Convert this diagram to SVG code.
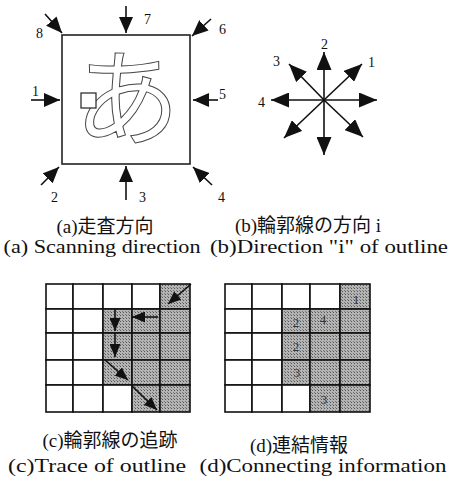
<svg xmlns="http://www.w3.org/2000/svg" width="452" height="482" viewBox="0 0 452 482">
<style>
.ln{stroke:#111;stroke-width:1.6;fill:none}
.num{font-family:"Liberation Serif","Noto Sans CJK JP",serif;font-size:14px;fill:#111}
.cap{font-family:"Liberation Serif","Noto Sans CJK JP",serif;font-size:19px;fill:#111}
.cell{stroke:#111;stroke-width:1.6}
.w{fill:#fff}
.g{fill:url(#dither)}
.dn{font-family:"Liberation Serif",serif;font-size:13px;fill:#333;text-anchor:middle}
</style>
<defs>
<pattern id="dither" width="3" height="3" patternUnits="userSpaceOnUse">
<rect width="3" height="3" fill="#b4b4b4"/>
<rect width="1" height="1" fill="#555"/>
<rect x="2" y="2" width="1" height="1" fill="#777"/>
</pattern>
<marker id="ah" markerUnits="userSpaceOnUse" markerWidth="16" markerHeight="14" refX="16" refY="7" orient="auto">
<path d="M0,0 L16,7 L0,14 z" fill="#111"/>
</marker>
<marker id="ahb" markerUnits="userSpaceOnUse" markerWidth="18" markerHeight="15" refX="18" refY="7.5" orient="auto">
<path d="M0,0 L18,7.5 L0,15 z" fill="#111"/>
</marker>
<marker id="ahc" markerUnits="userSpaceOnUse" markerWidth="13" markerHeight="11" refX="13" refY="5.5" orient="auto">
<path d="M0,0 L13,5.5 L0,11 z" fill="#111"/>
</marker>
</defs>

<!-- (a) scanning direction -->
<g id="scan-box">
<rect x="62" y="35" width="128" height="129" fill="#fff" stroke="#222" stroke-width="1.6"/>
<text x="127" y="137" text-anchor="middle" font-family="Noto Sans CJK JP,sans-serif" font-weight="400" font-size="106" fill="#fff" stroke="#444" stroke-width="1">あ</text>
<rect x="81" y="93" width="15" height="15" fill="#fff" stroke="#222" stroke-width="1.2"/>
</g>
<g id="scan-arrows">
<line class="ln" x1="45" y1="14" x2="62" y2="33" marker-end="url(#ah)"/>
<line class="ln" x1="126" y1="6" x2="126" y2="33" marker-end="url(#ah)"/>
<line class="ln" x1="211" y1="19" x2="192" y2="36" marker-end="url(#ah)"/>
<line class="ln" x1="31" y1="100" x2="60" y2="100" marker-end="url(#ah)"/>
<line class="ln" x1="218" y1="100" x2="193" y2="100" marker-end="url(#ah)"/>
<line class="ln" x1="41" y1="185" x2="59" y2="167" marker-end="url(#ah)"/>
<line class="ln" x1="126" y1="200" x2="126" y2="166" marker-end="url(#ah)"/>
<line class="ln" x1="212" y1="185" x2="193" y2="167" marker-end="url(#ah)"/>
</g>
<g id="scan-labels">
<text class="num" x="36" y="38">8</text>
<text class="num" x="144" y="24">7</text>
<text class="num" x="219" y="34">6</text>
<text class="num" x="32" y="96">1</text>
<text class="num" x="219" y="99">5</text>
<text class="num" x="51" y="202">2</text>
<text class="num" x="139" y="202">3</text>
<text class="num" x="218" y="202">4</text>
</g>

<!-- (b) direction i -->
<g id="dir-arrows">
<line class="ln" x1="324" y1="100" x2="324" y2="52" marker-end="url(#ahb)"/>
<line class="ln" x1="324" y1="100" x2="324" y2="155" marker-end="url(#ahb)"/>
<line class="ln" x1="324" y1="100" x2="377" y2="100" marker-end="url(#ahb)"/>
<line class="ln" x1="324" y1="100" x2="271" y2="100" marker-end="url(#ahb)"/>
<line class="ln" x1="324" y1="100" x2="362" y2="64" marker-end="url(#ahb)"/>
<line class="ln" x1="324" y1="100" x2="289" y2="64" marker-end="url(#ahb)"/>
<line class="ln" x1="324" y1="100" x2="284" y2="138" marker-end="url(#ahb)"/>
<line class="ln" x1="324" y1="100" x2="363" y2="137" marker-end="url(#ahb)"/>
</g>
<g id="dir-labels">
<text class="num" x="321" y="49">2</text>
<text class="num" x="368" y="67">1</text>
<text class="num" x="273" y="66">3</text>
<text class="num" x="258" y="107">4</text>
</g>

<g id="captions-ab">
<text class="cap" x="105" y="233" text-anchor="middle">(a)走査方向</text>
<text class="cap" x="102" y="253" text-anchor="middle" textLength="197" lengthAdjust="spacingAndGlyphs">(a) Scanning direction</text>
<text class="cap" x="308" y="232" text-anchor="middle">(b)輪郭線の方向 i</text>
<text class="cap" x="329" y="253" text-anchor="middle" textLength="238" lengthAdjust="spacingAndGlyphs">(b)Direction "i" of outline</text>
</g>

<!-- (c) trace grid -->
<g id="trace-grid">
<rect class="cell w" x="46" y="284" width="27" height="25"/>
<rect class="cell w" x="73" y="284" width="30" height="25"/>
<rect class="cell w" x="103" y="284" width="29" height="25"/>
<rect class="cell w" x="132" y="284" width="28" height="25"/>
<rect class="cell g" x="160" y="284" width="30" height="25"/>
<rect class="cell w" x="46" y="309" width="27" height="24"/>
<rect class="cell w" x="73" y="309" width="30" height="24"/>
<rect class="cell g" x="103" y="309" width="29" height="24"/>
<rect class="cell g" x="132" y="309" width="28" height="24"/>
<rect class="cell g" x="160" y="309" width="30" height="24"/>
<rect class="cell w" x="46" y="333" width="27" height="27"/>
<rect class="cell w" x="73" y="333" width="30" height="27"/>
<rect class="cell g" x="103" y="333" width="29" height="27"/>
<rect class="cell g" x="132" y="333" width="28" height="27"/>
<rect class="cell g" x="160" y="333" width="30" height="27"/>
<rect class="cell w" x="46" y="360" width="27" height="25"/>
<rect class="cell w" x="73" y="360" width="30" height="25"/>
<rect class="cell g" x="103" y="360" width="29" height="25"/>
<rect class="cell g" x="132" y="360" width="28" height="25"/>
<rect class="cell g" x="160" y="360" width="30" height="25"/>
<rect class="cell w" x="46" y="385" width="27" height="27"/>
<rect class="cell w" x="73" y="385" width="30" height="27"/>
<rect class="cell w" x="103" y="385" width="29" height="27"/>
<rect class="cell g" x="132" y="385" width="28" height="27"/>
<rect class="cell g" x="160" y="385" width="30" height="27"/>
</g>
<g id="trace-arrows">
<line class="ln" x1="191" y1="284" x2="168" y2="304" marker-end="url(#ahc)"/>
<line class="ln" x1="158" y1="317" x2="132" y2="317" marker-end="url(#ahc)"/>
<line class="ln" x1="115" y1="309" x2="115" y2="331" marker-end="url(#ahc)"/>
<line class="ln" x1="115" y1="333" x2="115" y2="357" marker-end="url(#ahc)"/>
<line class="ln" x1="105" y1="360" x2="128" y2="380" marker-end="url(#ahc)"/>
<line class="ln" x1="132" y1="386" x2="157" y2="410" marker-end="url(#ahc)"/>
</g>

<!-- (d) connecting information grid -->
<g id="connect-grid">
<rect class="cell w" x="225" y="284" width="27" height="25"/>
<rect class="cell w" x="252" y="284" width="30" height="25"/>
<rect class="cell w" x="282" y="284" width="28" height="25"/>
<rect class="cell w" x="310" y="284" width="30" height="25"/>
<rect class="cell g" x="340" y="284" width="30" height="25"/>
<rect class="cell w" x="225" y="309" width="27" height="24"/>
<rect class="cell w" x="252" y="309" width="30" height="24"/>
<rect class="cell g" x="282" y="309" width="28" height="24"/>
<rect class="cell g" x="310" y="309" width="30" height="24"/>
<rect class="cell g" x="340" y="309" width="30" height="24"/>
<rect class="cell w" x="225" y="333" width="27" height="27"/>
<rect class="cell w" x="252" y="333" width="30" height="27"/>
<rect class="cell g" x="282" y="333" width="28" height="27"/>
<rect class="cell g" x="310" y="333" width="30" height="27"/>
<rect class="cell g" x="340" y="333" width="30" height="27"/>
<rect class="cell w" x="225" y="360" width="27" height="25"/>
<rect class="cell w" x="252" y="360" width="30" height="25"/>
<rect class="cell g" x="282" y="360" width="28" height="25"/>
<rect class="cell g" x="310" y="360" width="30" height="25"/>
<rect class="cell g" x="340" y="360" width="30" height="25"/>
<rect class="cell w" x="225" y="385" width="27" height="27"/>
<rect class="cell w" x="252" y="385" width="30" height="27"/>
<rect class="cell w" x="282" y="385" width="28" height="27"/>
<rect class="cell g" x="310" y="385" width="30" height="27"/>
<rect class="cell g" x="340" y="385" width="30" height="27"/>
</g>
<g id="connect-labels">
<text class="dn" x="356" y="304">1</text>
<text class="dn" x="296" y="327">2</text>
<text class="dn" x="323" y="324">4</text>
<text class="dn" x="296" y="351">2</text>
<text class="dn" x="297" y="377">3</text>
<text class="dn" x="324" y="404">3</text>
</g>

<g id="captions-cd">
<text class="cap" x="110" y="447" text-anchor="middle">(c)輪郭線の追跡</text>
<text class="cap" x="97" y="472" text-anchor="middle" textLength="178" lengthAdjust="spacingAndGlyphs">(c)Trace of outline</text>
<text class="cap" x="299" y="452" text-anchor="middle">(d)連結情報</text>
<text class="cap" x="323" y="472" text-anchor="middle" textLength="247" lengthAdjust="spacingAndGlyphs">(d)Connecting information</text>
</g>
</svg>
